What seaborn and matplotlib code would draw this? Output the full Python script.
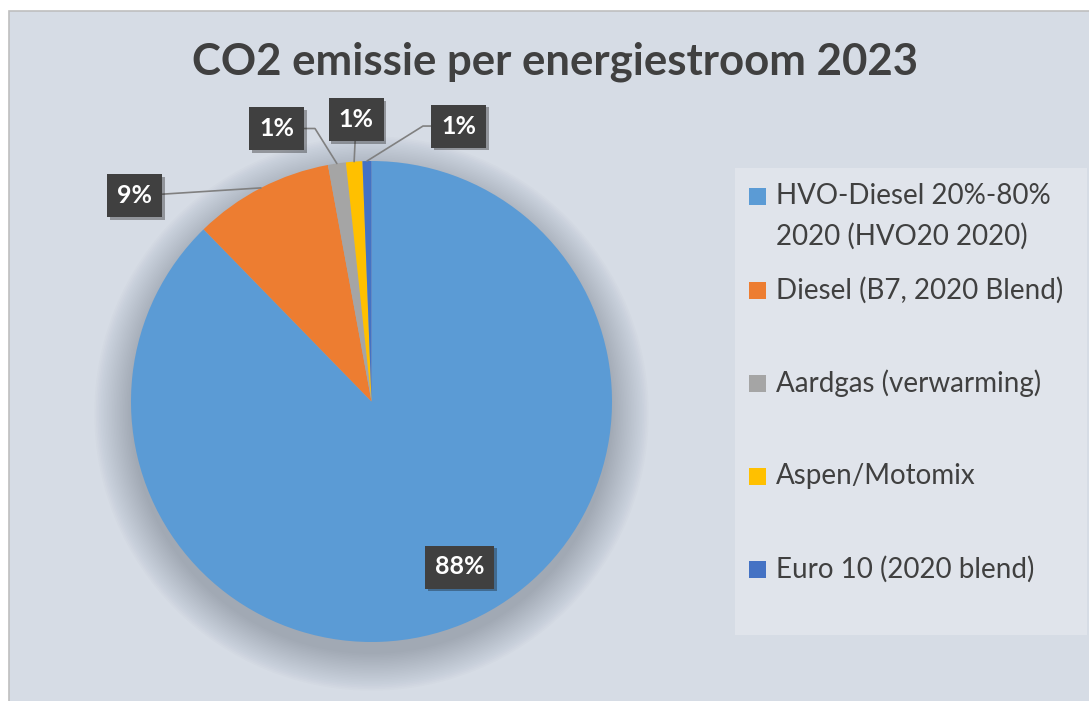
import matplotlib
matplotlib.use("Agg")
import matplotlib.pyplot as plt
import matplotlib.patches as mpatches
import matplotlib.patheffects as pe
import numpy as np
import seaborn as sns

# data
categories = [
    "HVO-Diesel 20%-80%\n2020 (HVO20 2020)",
    "Diesel (B7, 2020 Blend)",
    "Aardgas (verwarming)",
    "Aspen/Motomix",
    "Euro 10 (2020 blend)",
]
shares = [87.7, 9.4, 1.2, 1.1, 0.6]
title = "CO2 emissie per energiestroom 2023"

colors = sns.color_palette(["#5B9BD5", "#ED7D31", "#A5A5A5", "#FFC000", "#4472C4"])

sns.set_theme(style="white")
plt.rcParams["font.family"] = ["Lato", "DejaVu Sans"]

W, H = 1089, 701
fig = plt.figure(figsize=(W / 100, H / 100), dpi=100, facecolor="white")
ax = fig.add_axes([0, 0, 1, 1])

# chart area background with thin border
ax.add_patch(mpatches.Rectangle((8.5, -5), W, H - 10.5 + 5, facecolor="#D6DCE5",
                                edgecolor="#BFBFBF", linewidth=1.2, zorder=0))

# pie geometry (pixel units, y up)
cx, cy, R = 371.5, H - 401.5, 240.5

# soft shadow under pie
for i in range(24):
    ax.add_patch(mpatches.Circle((cx, cy - 12), R + i * 1.6, facecolor="#1F2A3A",
                                 edgecolor="none", alpha=0.011, zorder=1))

wedges, _ = ax.pie(shares, colors=colors, startangle=90, counterclock=False,
                   center=(cx, cy), radius=R, wedgeprops=dict(linewidth=0, zorder=2))

ax.set_xlim(0, W)
ax.set_ylim(0, H)
ax.set_aspect("equal")
ax.axis("off")

pct = [f"{v / sum(shares) * 100:.0f}%" for v in shares]

# label placement (offsets from slice edge, pixels) and leader shapes
offsets = [None, (-126, -8), (-60, 35), (2, 42), (92, 35)]
conn = [None, "arc3", "angle,angleA=0,angleB=122,rad=0", "arc3",
        "angle,angleA=0,angleB=32,rad=0"]

box = dict(boxstyle="square,pad=0.4", facecolor="#404040", edgecolor="none")
for i, w in enumerate(wedges):
    mid = np.deg2rad((w.theta1 + w.theta2) / 2)
    ex, ey = cx + R * np.cos(mid), cy + R * np.sin(mid)
    if offsets[i] is None:
        t = ax.text(cx + 88, cy - 165.5, pct[i], color="white", fontsize=18,
                    fontweight="bold", ha="center", va="center", bbox=box, zorder=5)
    else:
        dx, dy = offsets[i]
        t = ax.annotate(pct[i], xy=(ex, ey), xytext=(ex + dx, ey + dy),
                        color="white", fontsize=18, fontweight="bold",
                        ha="center", va="center", bbox=box, zorder=5,
                        arrowprops=dict(arrowstyle="-", color="#808080", lw=1.2,
                                        connectionstyle=conn[i], shrinkA=0, shrinkB=0))
    t.get_bbox_patch().set_path_effects([
        pe.SimplePatchShadow(offset=(2, -2), alpha=0.35), pe.Normal()])

# title
ax.text(555, H - 62, title, ha="center", va="center", fontsize=31.5,
        fontweight="bold", color="#404040")

# legend drawn as a box with markers
ax.add_patch(mpatches.Rectangle((735, H - 635), 352, 467, facecolor="#E0E4EB",
                                edgecolor="none", zorder=1))
legend_y = [196, 290, 383, 476, 569]
for lab, col, y in zip(categories, colors, legend_y):
    ax.add_patch(mpatches.Rectangle((749, H - y - 8.5), 17, 17, facecolor=col,
                                    edgecolor="none", zorder=3))
    if "\n" in lab:
        ax.text(776, H - y - 20.5, lab, ha="left", va="center", fontsize=20,
                color="#404040", linespacing=1.65)
    else:
        ax.text(776, H - y, lab, ha="left", va="center", fontsize=20,
                color="#404040")

fig.savefig("out.png", dpi=100, facecolor="white")
